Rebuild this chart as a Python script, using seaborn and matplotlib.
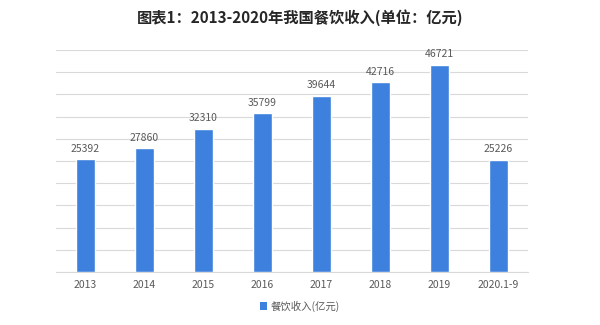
import matplotlib
matplotlib.use("Agg")
import matplotlib.pyplot as plt
import seaborn as sns
import pandas as pd
from matplotlib.patches import Patch

years = ["2013", "2014", "2015", "2016", "2017", "2018", "2019", "2020.1-9"]
revenue = [25392, 27860, 32310, 35799, 39644, 42716, 46721, 25226]
series_name = "餐饮收入(亿元)"
title = "图表1：2013-2020年我国餐饮收入(单位：亿元)"

sns.set_theme(style="white")
plt.rcParams["font.family"] = ["Noto Sans CJK SC", "DejaVu Sans"]

df = pd.DataFrame({"year": years, "revenue": revenue})
bar_color = "#3d80dd"
text_color = "#595959"

fig = plt.figure(figsize=(6, 3.25), dpi=100)
ax = fig.add_axes([0.093, 0.163, 0.787, 0.683])
sns.barplot(data=df, x="year", y="revenue", color=bar_color, width=0.32,
            saturation=1, ax=ax, zorder=3)

ax.set_ylim(0, 50000)
ax.set_yticks(range(0, 50001, 5000))
ax.yaxis.grid(True, color="#d9d9d9", linewidth=0.8, zorder=0)
ax.set_yticklabels([])
ax.tick_params(axis="y", length=0)
ax.tick_params(axis="x", length=0, labelsize=7.5, labelcolor=text_color, pad=6)
ax.set_xlabel("")
ax.set_ylabel("")
for s in ["top", "right", "left"]:
    ax.spines[s].set_visible(False)
ax.spines["bottom"].set_color("#d9d9d9")
ax.spines["bottom"].set_linewidth(0.8)

for c in ax.containers:
    ax.bar_label(c, labels=[str(v) for v in revenue], padding=4,
                 fontsize=7.5, color=text_color)

fig.text(0.5, 0.947, title, ha="center", va="center", fontsize=11,
         fontweight="bold", color="#262626")

handle = Patch(facecolor=bar_color, edgecolor="none")
fig.legend([handle], [series_name], loc="center", bbox_to_anchor=(0.5, 0.058),
           frameon=False, fontsize=7.5, handlelength=0.7, handleheight=0.7,
           handletextpad=0.3, labelcolor=text_color)

fig.savefig("out.png", dpi=100)
